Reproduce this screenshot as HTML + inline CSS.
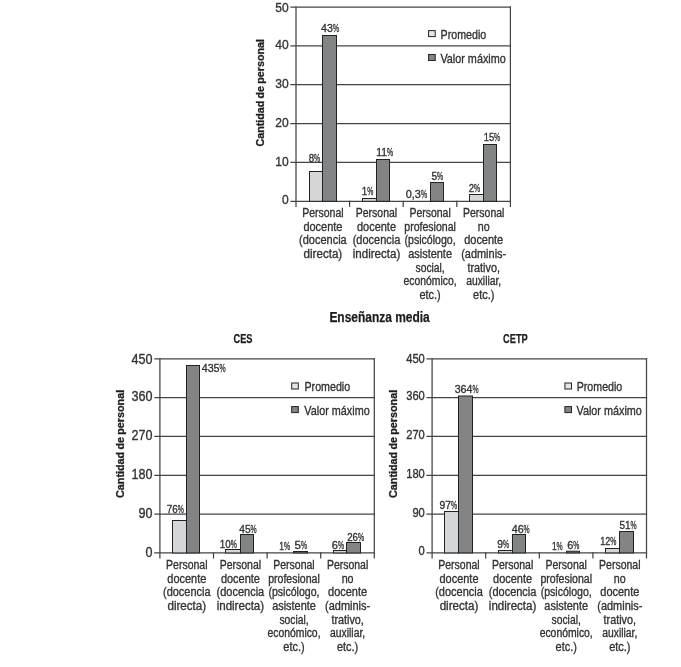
<!DOCTYPE html>
<html lang="es">
<head>
<meta charset="utf-8">
<title>Enseñanza media</title>
<style>
html,body{margin:0;padding:0;background:#ffffff;}
body{width:681px;height:667px;overflow:hidden;font-family:"Liberation Sans", sans-serif;}
svg{display:block;}
svg text{font-family:"Liberation Sans", sans-serif;}
</style>
</head>
<body>
<svg width="681" height="667" viewBox="0 0 681 667">
<rect x="0" y="0" width="681" height="667" fill="#ffffff"/>
<g stroke="#444444" stroke-width="1.25" fill="none" stroke-linecap="square">
<line x1="291.00" y1="7.00" x2="510.40" y2="7.00"/>
<line x1="291.00" y1="45.86" x2="510.40" y2="45.86"/>
<line x1="291.00" y1="84.72" x2="510.40" y2="84.72"/>
<line x1="291.00" y1="123.58" x2="510.40" y2="123.58"/>
<line x1="291.00" y1="162.44" x2="510.40" y2="162.44"/>
<line x1="291.00" y1="201.30" x2="510.40" y2="201.30"/>
<line x1="296.00" y1="7.00" x2="296.00" y2="206.30"/>
<line x1="510.40" y1="7.00" x2="510.40" y2="206.30"/>
<line x1="349.60" y1="201.30" x2="349.60" y2="206.30"/>
<line x1="403.20" y1="201.30" x2="403.20" y2="206.30"/>
<line x1="456.80" y1="201.30" x2="456.80" y2="206.30"/>
</g>
<g stroke="#222222" stroke-width="1">
<rect x="309.50" y="171.50" width="13.00" height="29.80" fill="#d5d6d8"/>
<rect x="322.50" y="35.50" width="14.00" height="165.80" fill="#838486"/>
<rect x="362.50" y="198.50" width="14.00" height="2.80" fill="#d5d6d8"/>
<rect x="376.50" y="159.50" width="13.00" height="41.80" fill="#838486"/>
<rect x="430.50" y="182.50" width="13.00" height="18.80" fill="#838486"/>
<rect x="469.50" y="194.50" width="14.00" height="6.80" fill="#d5d6d8"/>
<rect x="483.50" y="144.50" width="13.00" height="56.80" fill="#838486"/>
</g>
<text x="275.30" y="12" font-size="13.4" font-weight="normal" fill="#333333" stroke="#333333" stroke-width="0.35" textLength="13.40" lengthAdjust="spacingAndGlyphs">50</text>
<text x="275.30" y="49" font-size="13.4" font-weight="normal" fill="#333333" stroke="#333333" stroke-width="0.35" textLength="13.40" lengthAdjust="spacingAndGlyphs">40</text>
<text x="275.30" y="88" font-size="13.4" font-weight="normal" fill="#333333" stroke="#333333" stroke-width="0.35" textLength="13.40" lengthAdjust="spacingAndGlyphs">30</text>
<text x="275.30" y="127" font-size="13.4" font-weight="normal" fill="#333333" stroke="#333333" stroke-width="0.35" textLength="13.40" lengthAdjust="spacingAndGlyphs">20</text>
<text x="275.30" y="166" font-size="13.4" font-weight="normal" fill="#333333" stroke="#333333" stroke-width="0.35" textLength="13.40" lengthAdjust="spacingAndGlyphs">10</text>
<text x="282.00" y="204" font-size="13.4" font-weight="normal" fill="#333333" stroke="#333333" stroke-width="0.35" textLength="6.70" lengthAdjust="spacingAndGlyphs">0</text>
<text x="308.70" y="162" font-size="11.3" fill="#333333" stroke="#333333" stroke-width="0.35"><tspan textLength="5.40" lengthAdjust="spacingAndGlyphs">8</tspan><tspan textLength="6.10" lengthAdjust="spacingAndGlyphs">%</tspan></text>
<text x="321.00" y="32" font-size="11.3" fill="#333333" stroke="#333333" stroke-width="0.35"><tspan textLength="11.90" lengthAdjust="spacingAndGlyphs">43</tspan><tspan textLength="6.10" lengthAdjust="spacingAndGlyphs">%</tspan></text>
<text x="361.70" y="195" font-size="11.3" fill="#333333" stroke="#333333" stroke-width="0.35"><tspan textLength="5.50" lengthAdjust="spacingAndGlyphs">1</tspan><tspan textLength="6.10" lengthAdjust="spacingAndGlyphs">%</tspan></text>
<text x="376.30" y="156" font-size="11.3" fill="#333333" stroke="#333333" stroke-width="0.35"><tspan textLength="10.80" lengthAdjust="spacingAndGlyphs">11</tspan><tspan textLength="6.10" lengthAdjust="spacingAndGlyphs">%</tspan></text>
<text x="405.70" y="198" font-size="11.3" fill="#333333" stroke="#333333" stroke-width="0.35"><tspan textLength="15.20" lengthAdjust="spacingAndGlyphs">0,3</tspan><tspan textLength="6.10" lengthAdjust="spacingAndGlyphs">%</tspan></text>
<text x="431.50" y="180" font-size="11.3" fill="#333333" stroke="#333333" stroke-width="0.35"><tspan textLength="5.60" lengthAdjust="spacingAndGlyphs">5</tspan><tspan textLength="6.10" lengthAdjust="spacingAndGlyphs">%</tspan></text>
<text x="468.70" y="192" font-size="11.3" fill="#333333" stroke="#333333" stroke-width="0.35"><tspan textLength="5.40" lengthAdjust="spacingAndGlyphs">2</tspan><tspan textLength="6.10" lengthAdjust="spacingAndGlyphs">%</tspan></text>
<text x="483.70" y="141" font-size="11.3" fill="#333333" stroke="#333333" stroke-width="0.35"><tspan textLength="10.40" lengthAdjust="spacingAndGlyphs">15</tspan><tspan textLength="6.10" lengthAdjust="spacingAndGlyphs">%</tspan></text>
<rect x="428.6" y="30.6" width="6.6" height="6" fill="#e6e6e6" stroke="#222222" stroke-width="1"/>
<rect x="428.6" y="54.5" width="6.6" height="6" fill="#838486" stroke="#222222" stroke-width="1"/>
<text x="440.60" y="39" font-size="12.6" font-weight="normal" fill="#333333" stroke="#333333" stroke-width="0.35" textLength="45.60" lengthAdjust="spacingAndGlyphs">Promedio</text>
<text x="440.40" y="63" font-size="12.6" font-weight="normal" fill="#333333" stroke="#333333" stroke-width="0.35" textLength="65.40" lengthAdjust="spacingAndGlyphs">Valor máximo</text>
<text x="302.20" y="217" font-size="12.3" font-weight="normal" fill="#333333" stroke="#333333" stroke-width="0.35" textLength="41.40" lengthAdjust="spacingAndGlyphs">Personal</text>
<text x="303.40" y="231" font-size="12.3" font-weight="normal" fill="#333333" stroke="#333333" stroke-width="0.35" textLength="39.00" lengthAdjust="spacingAndGlyphs">docente</text>
<text x="299.10" y="244" font-size="12.3" font-weight="normal" fill="#333333" stroke="#333333" stroke-width="0.35" textLength="47.60" lengthAdjust="spacingAndGlyphs">(docencia</text>
<text x="303.55" y="258" font-size="12.3" font-weight="normal" fill="#333333" stroke="#333333" stroke-width="0.35" textLength="38.70" lengthAdjust="spacingAndGlyphs">directa)</text>
<text x="355.80" y="217" font-size="12.3" font-weight="normal" fill="#333333" stroke="#333333" stroke-width="0.35" textLength="41.40" lengthAdjust="spacingAndGlyphs">Personal</text>
<text x="357.00" y="231" font-size="12.3" font-weight="normal" fill="#333333" stroke="#333333" stroke-width="0.35" textLength="39.00" lengthAdjust="spacingAndGlyphs">docente</text>
<text x="352.70" y="244" font-size="12.3" font-weight="normal" fill="#333333" stroke="#333333" stroke-width="0.35" textLength="47.60" lengthAdjust="spacingAndGlyphs">(docencia</text>
<text x="352.75" y="258" font-size="12.3" font-weight="normal" fill="#333333" stroke="#333333" stroke-width="0.35" textLength="47.50" lengthAdjust="spacingAndGlyphs">indirecta)</text>
<text x="409.40" y="217" font-size="12.3" font-weight="normal" fill="#333333" stroke="#333333" stroke-width="0.35" textLength="41.40" lengthAdjust="spacingAndGlyphs">Personal</text>
<text x="404.30" y="231" font-size="12.3" font-weight="normal" fill="#333333" stroke="#333333" stroke-width="0.35" textLength="51.60" lengthAdjust="spacingAndGlyphs">profesional</text>
<text x="404.55" y="244" font-size="12.3" font-weight="normal" fill="#333333" stroke="#333333" stroke-width="0.35" textLength="51.10" lengthAdjust="spacingAndGlyphs">(psicólogo,</text>
<text x="408.25" y="258" font-size="12.3" font-weight="normal" fill="#333333" stroke="#333333" stroke-width="0.35" textLength="43.70" lengthAdjust="spacingAndGlyphs">asistente</text>
<text x="415.50" y="272" font-size="12.3" font-weight="normal" fill="#333333" stroke="#333333" stroke-width="0.35" textLength="29.20" lengthAdjust="spacingAndGlyphs">social,</text>
<text x="403.55" y="285" font-size="12.3" font-weight="normal" fill="#333333" stroke="#333333" stroke-width="0.35" textLength="53.10" lengthAdjust="spacingAndGlyphs">económico,</text>
<text x="419.45" y="299" font-size="12.3" font-weight="normal" fill="#333333" stroke="#333333" stroke-width="0.35" textLength="21.30" lengthAdjust="spacingAndGlyphs">etc.)</text>
<text x="463.00" y="217" font-size="12.3" font-weight="normal" fill="#333333" stroke="#333333" stroke-width="0.35" textLength="41.40" lengthAdjust="spacingAndGlyphs">Personal</text>
<text x="477.75" y="231" font-size="12.3" font-weight="normal" fill="#333333" stroke="#333333" stroke-width="0.35" textLength="11.90" lengthAdjust="spacingAndGlyphs">no</text>
<text x="464.20" y="244" font-size="12.3" font-weight="normal" fill="#333333" stroke="#333333" stroke-width="0.35" textLength="39.00" lengthAdjust="spacingAndGlyphs">docente</text>
<text x="461.20" y="258" font-size="12.3" font-weight="normal" fill="#333333" stroke="#333333" stroke-width="0.35" textLength="45.00" lengthAdjust="spacingAndGlyphs">(adminis-</text>
<text x="467.50" y="272" font-size="12.3" font-weight="normal" fill="#333333" stroke="#333333" stroke-width="0.35" textLength="32.40" lengthAdjust="spacingAndGlyphs">trativo,</text>
<text x="466.15" y="285" font-size="12.3" font-weight="normal" fill="#333333" stroke="#333333" stroke-width="0.35" textLength="35.10" lengthAdjust="spacingAndGlyphs">auxiliar,</text>
<text x="473.05" y="299" font-size="12.3" font-weight="normal" fill="#333333" stroke="#333333" stroke-width="0.35" textLength="21.30" lengthAdjust="spacingAndGlyphs">etc.)</text>
<text transform="translate(263.80,146.60) rotate(-90)" x="0" y="0" word-spacing="-0.9" font-size="11.6" font-weight="bold" fill="#1f1f1f" stroke="#1f1f1f" stroke-width="0.3" textLength="107.6" lengthAdjust="spacingAndGlyphs">Cantidad de personal</text>
<g stroke="#444444" stroke-width="1.25" fill="none" stroke-linecap="square">
<line x1="154.90" y1="358.85" x2="374.30" y2="358.85"/>
<line x1="154.90" y1="397.67" x2="374.30" y2="397.67"/>
<line x1="154.90" y1="436.49" x2="374.30" y2="436.49"/>
<line x1="154.90" y1="475.31" x2="374.30" y2="475.31"/>
<line x1="154.90" y1="514.13" x2="374.30" y2="514.13"/>
<line x1="154.90" y1="552.95" x2="374.30" y2="552.95"/>
<line x1="159.90" y1="358.85" x2="159.90" y2="557.95"/>
<line x1="374.30" y1="358.85" x2="374.30" y2="557.95"/>
<line x1="213.50" y1="552.95" x2="213.50" y2="557.95"/>
<line x1="267.10" y1="552.95" x2="267.10" y2="557.95"/>
<line x1="320.70" y1="552.95" x2="320.70" y2="557.95"/>
</g>
<g stroke="#222222" stroke-width="1">
<rect x="172.50" y="520.50" width="14.00" height="32.45" fill="#d5d6d8"/>
<rect x="186.50" y="365.50" width="13.00" height="187.45" fill="#838486"/>
<rect x="225.50" y="549.50" width="15.00" height="3.45" fill="#d5d6d8"/>
<rect x="240.50" y="534.50" width="13.00" height="18.45" fill="#838486"/>
<rect x="293.50" y="551.50" width="14.00" height="1.45" fill="#838486"/>
<rect x="333.50" y="550.50" width="13.00" height="2.45" fill="#d5d6d8"/>
<rect x="346.50" y="542.50" width="14.00" height="10.45" fill="#838486"/>
</g>
<text x="131.60" y="364" font-size="14" font-weight="normal" fill="#333333" stroke="#333333" stroke-width="0.35" textLength="21.00" lengthAdjust="spacingAndGlyphs">450</text>
<text x="131.60" y="401" font-size="14" font-weight="normal" fill="#333333" stroke="#333333" stroke-width="0.35" textLength="21.00" lengthAdjust="spacingAndGlyphs">360</text>
<text x="131.60" y="440" font-size="14" font-weight="normal" fill="#333333" stroke="#333333" stroke-width="0.35" textLength="21.00" lengthAdjust="spacingAndGlyphs">270</text>
<text x="131.60" y="479" font-size="14" font-weight="normal" fill="#333333" stroke="#333333" stroke-width="0.35" textLength="21.00" lengthAdjust="spacingAndGlyphs">180</text>
<text x="138.60" y="518" font-size="14" font-weight="normal" fill="#333333" stroke="#333333" stroke-width="0.35" textLength="14.00" lengthAdjust="spacingAndGlyphs">90</text>
<text x="145.60" y="557" font-size="14" font-weight="normal" fill="#333333" stroke="#333333" stroke-width="0.35" textLength="7.00" lengthAdjust="spacingAndGlyphs">0</text>
<text x="166.80" y="513" font-size="11.3" fill="#333333" stroke="#333333" stroke-width="0.35"><tspan textLength="11.00" lengthAdjust="spacingAndGlyphs">76</tspan><tspan textLength="6.10" lengthAdjust="spacingAndGlyphs">%</tspan></text>
<text x="201.70" y="372" font-size="11.3" fill="#333333" stroke="#333333" stroke-width="0.35"><tspan textLength="17.90" lengthAdjust="spacingAndGlyphs">435</tspan><tspan textLength="6.10" lengthAdjust="spacingAndGlyphs">%</tspan></text>
<text x="219.80" y="548" font-size="11.3" fill="#333333" stroke="#333333" stroke-width="0.35"><tspan textLength="11.00" lengthAdjust="spacingAndGlyphs">10</tspan><tspan textLength="6.10" lengthAdjust="spacingAndGlyphs">%</tspan></text>
<text x="239.20" y="533" font-size="11.3" fill="#333333" stroke="#333333" stroke-width="0.35"><tspan textLength="11.40" lengthAdjust="spacingAndGlyphs">45</tspan><tspan textLength="6.10" lengthAdjust="spacingAndGlyphs">%</tspan></text>
<text x="279.20" y="550" font-size="11.3" fill="#333333" stroke="#333333" stroke-width="0.35"><tspan textLength="4.70" lengthAdjust="spacingAndGlyphs">1</tspan><tspan textLength="6.10" lengthAdjust="spacingAndGlyphs">%</tspan></text>
<text x="294.50" y="549" font-size="11.3" fill="#333333" stroke="#333333" stroke-width="0.35"><tspan textLength="6.40" lengthAdjust="spacingAndGlyphs">5</tspan><tspan textLength="6.10" lengthAdjust="spacingAndGlyphs">%</tspan></text>
<text x="331.70" y="549" font-size="11.3" fill="#333333" stroke="#333333" stroke-width="0.35"><tspan textLength="6.20" lengthAdjust="spacingAndGlyphs">6</tspan><tspan textLength="6.10" lengthAdjust="spacingAndGlyphs">%</tspan></text>
<text x="347.20" y="541" font-size="11.3" fill="#333333" stroke="#333333" stroke-width="0.35"><tspan textLength="10.80" lengthAdjust="spacingAndGlyphs">26</tspan><tspan textLength="6.10" lengthAdjust="spacingAndGlyphs">%</tspan></text>
<rect x="291.7" y="383.0" width="6.6" height="6" fill="#e6e6e6" stroke="#222222" stroke-width="1"/>
<rect x="291.7" y="406.6" width="6.6" height="6" fill="#838486" stroke="#222222" stroke-width="1"/>
<text x="304.50" y="391" font-size="12.6" font-weight="normal" fill="#333333" stroke="#333333" stroke-width="0.35" textLength="45.60" lengthAdjust="spacingAndGlyphs">Promedio</text>
<text x="304.30" y="415" font-size="12.6" font-weight="normal" fill="#333333" stroke="#333333" stroke-width="0.35" textLength="65.40" lengthAdjust="spacingAndGlyphs">Valor máximo</text>
<text x="166.10" y="569" font-size="12.3" font-weight="normal" fill="#333333" stroke="#333333" stroke-width="0.35" textLength="41.40" lengthAdjust="spacingAndGlyphs">Personal</text>
<text x="167.30" y="583" font-size="12.3" font-weight="normal" fill="#333333" stroke="#333333" stroke-width="0.35" textLength="39.00" lengthAdjust="spacingAndGlyphs">docente</text>
<text x="163.00" y="596" font-size="12.3" font-weight="normal" fill="#333333" stroke="#333333" stroke-width="0.35" textLength="47.60" lengthAdjust="spacingAndGlyphs">(docencia</text>
<text x="167.45" y="610" font-size="12.3" font-weight="normal" fill="#333333" stroke="#333333" stroke-width="0.35" textLength="38.70" lengthAdjust="spacingAndGlyphs">directa)</text>
<text x="219.70" y="569" font-size="12.3" font-weight="normal" fill="#333333" stroke="#333333" stroke-width="0.35" textLength="41.40" lengthAdjust="spacingAndGlyphs">Personal</text>
<text x="220.90" y="583" font-size="12.3" font-weight="normal" fill="#333333" stroke="#333333" stroke-width="0.35" textLength="39.00" lengthAdjust="spacingAndGlyphs">docente</text>
<text x="216.60" y="596" font-size="12.3" font-weight="normal" fill="#333333" stroke="#333333" stroke-width="0.35" textLength="47.60" lengthAdjust="spacingAndGlyphs">(docencia</text>
<text x="216.65" y="610" font-size="12.3" font-weight="normal" fill="#333333" stroke="#333333" stroke-width="0.35" textLength="47.50" lengthAdjust="spacingAndGlyphs">indirecta)</text>
<text x="273.30" y="569" font-size="12.3" font-weight="normal" fill="#333333" stroke="#333333" stroke-width="0.35" textLength="41.40" lengthAdjust="spacingAndGlyphs">Personal</text>
<text x="268.20" y="583" font-size="12.3" font-weight="normal" fill="#333333" stroke="#333333" stroke-width="0.35" textLength="51.60" lengthAdjust="spacingAndGlyphs">profesional</text>
<text x="268.45" y="596" font-size="12.3" font-weight="normal" fill="#333333" stroke="#333333" stroke-width="0.35" textLength="51.10" lengthAdjust="spacingAndGlyphs">(psicólogo,</text>
<text x="272.15" y="610" font-size="12.3" font-weight="normal" fill="#333333" stroke="#333333" stroke-width="0.35" textLength="43.70" lengthAdjust="spacingAndGlyphs">asistente</text>
<text x="279.40" y="624" font-size="12.3" font-weight="normal" fill="#333333" stroke="#333333" stroke-width="0.35" textLength="29.20" lengthAdjust="spacingAndGlyphs">social,</text>
<text x="267.45" y="637" font-size="12.3" font-weight="normal" fill="#333333" stroke="#333333" stroke-width="0.35" textLength="53.10" lengthAdjust="spacingAndGlyphs">económico,</text>
<text x="283.35" y="651" font-size="12.3" font-weight="normal" fill="#333333" stroke="#333333" stroke-width="0.35" textLength="21.30" lengthAdjust="spacingAndGlyphs">etc.)</text>
<text x="326.90" y="569" font-size="12.3" font-weight="normal" fill="#333333" stroke="#333333" stroke-width="0.35" textLength="41.40" lengthAdjust="spacingAndGlyphs">Personal</text>
<text x="341.65" y="583" font-size="12.3" font-weight="normal" fill="#333333" stroke="#333333" stroke-width="0.35" textLength="11.90" lengthAdjust="spacingAndGlyphs">no</text>
<text x="328.10" y="596" font-size="12.3" font-weight="normal" fill="#333333" stroke="#333333" stroke-width="0.35" textLength="39.00" lengthAdjust="spacingAndGlyphs">docente</text>
<text x="325.10" y="610" font-size="12.3" font-weight="normal" fill="#333333" stroke="#333333" stroke-width="0.35" textLength="45.00" lengthAdjust="spacingAndGlyphs">(adminis-</text>
<text x="331.40" y="624" font-size="12.3" font-weight="normal" fill="#333333" stroke="#333333" stroke-width="0.35" textLength="32.40" lengthAdjust="spacingAndGlyphs">trativo,</text>
<text x="330.05" y="637" font-size="12.3" font-weight="normal" fill="#333333" stroke="#333333" stroke-width="0.35" textLength="35.10" lengthAdjust="spacingAndGlyphs">auxiliar,</text>
<text x="336.95" y="651" font-size="12.3" font-weight="normal" fill="#333333" stroke="#333333" stroke-width="0.35" textLength="21.30" lengthAdjust="spacingAndGlyphs">etc.)</text>
<text transform="translate(124.30,498.00) rotate(-90)" x="0" y="0" word-spacing="-0.9" font-size="11.6" font-weight="bold" fill="#1f1f1f" stroke="#1f1f1f" stroke-width="0.3" textLength="108.2" lengthAdjust="spacingAndGlyphs">Cantidad de personal</text>
<g stroke="#444444" stroke-width="1.25" fill="none" stroke-linecap="square">
<line x1="427.10" y1="358.80" x2="646.50" y2="358.80"/>
<line x1="427.10" y1="397.62" x2="646.50" y2="397.62"/>
<line x1="427.10" y1="436.44" x2="646.50" y2="436.44"/>
<line x1="427.10" y1="475.26" x2="646.50" y2="475.26"/>
<line x1="427.10" y1="514.08" x2="646.50" y2="514.08"/>
<line x1="427.10" y1="552.90" x2="646.50" y2="552.90"/>
<line x1="432.10" y1="358.80" x2="432.10" y2="557.90"/>
<line x1="646.50" y1="358.80" x2="646.50" y2="557.90"/>
<line x1="485.70" y1="552.90" x2="485.70" y2="557.90"/>
<line x1="539.30" y1="552.90" x2="539.30" y2="557.90"/>
<line x1="592.90" y1="552.90" x2="592.90" y2="557.90"/>
</g>
<g stroke="#222222" stroke-width="1">
<rect x="444.50" y="511.50" width="14.00" height="41.40" fill="#d5d6d8"/>
<rect x="458.50" y="396.00" width="14.00" height="156.90" fill="#838486"/>
<rect x="498.50" y="550.50" width="14.00" height="2.40" fill="#d5d6d8"/>
<rect x="512.50" y="534.50" width="13.00" height="18.40" fill="#838486"/>
<rect x="566.50" y="551.20" width="13.00" height="1.70" fill="#838486"/>
<rect x="605.50" y="548.50" width="14.00" height="4.40" fill="#d5d6d8"/>
<rect x="619.50" y="531.50" width="14.00" height="21.40" fill="#838486"/>
</g>
<text x="406.20" y="363" font-size="12.1" font-weight="normal" fill="#333333" stroke="#333333" stroke-width="0.35" textLength="18.60" lengthAdjust="spacingAndGlyphs">450</text>
<text x="406.20" y="400" font-size="12.1" font-weight="normal" fill="#333333" stroke="#333333" stroke-width="0.35" textLength="18.60" lengthAdjust="spacingAndGlyphs">360</text>
<text x="406.20" y="439" font-size="12.1" font-weight="normal" fill="#333333" stroke="#333333" stroke-width="0.35" textLength="18.60" lengthAdjust="spacingAndGlyphs">270</text>
<text x="406.20" y="478" font-size="12.1" font-weight="normal" fill="#333333" stroke="#333333" stroke-width="0.35" textLength="18.60" lengthAdjust="spacingAndGlyphs">180</text>
<text x="412.40" y="517" font-size="12.1" font-weight="normal" fill="#333333" stroke="#333333" stroke-width="0.35" textLength="12.40" lengthAdjust="spacingAndGlyphs">90</text>
<text x="418.60" y="555" font-size="12.1" font-weight="normal" fill="#333333" stroke="#333333" stroke-width="0.35" textLength="6.20" lengthAdjust="spacingAndGlyphs">0</text>
<text x="439.40" y="509" font-size="11.3" fill="#333333" stroke="#333333" stroke-width="0.35"><tspan textLength="11.50" lengthAdjust="spacingAndGlyphs">97</tspan><tspan textLength="6.10" lengthAdjust="spacingAndGlyphs">%</tspan></text>
<text x="454.70" y="393" font-size="11.3" fill="#333333" stroke="#333333" stroke-width="0.35"><tspan textLength="17.80" lengthAdjust="spacingAndGlyphs">364</tspan><tspan textLength="6.10" lengthAdjust="spacingAndGlyphs">%</tspan></text>
<text x="497.30" y="548" font-size="11.3" fill="#333333" stroke="#333333" stroke-width="0.35"><tspan textLength="5.80" lengthAdjust="spacingAndGlyphs">9</tspan><tspan textLength="6.10" lengthAdjust="spacingAndGlyphs">%</tspan></text>
<text x="511.70" y="533" font-size="11.3" fill="#333333" stroke="#333333" stroke-width="0.35"><tspan textLength="11.90" lengthAdjust="spacingAndGlyphs">46</tspan><tspan textLength="6.10" lengthAdjust="spacingAndGlyphs">%</tspan></text>
<text x="551.90" y="550" font-size="11.3" fill="#333333" stroke="#333333" stroke-width="0.35"><tspan textLength="4.70" lengthAdjust="spacingAndGlyphs">1</tspan><tspan textLength="6.10" lengthAdjust="spacingAndGlyphs">%</tspan></text>
<text x="567.20" y="549" font-size="11.3" fill="#333333" stroke="#333333" stroke-width="0.35"><tspan textLength="6.10" lengthAdjust="spacingAndGlyphs">6</tspan><tspan textLength="6.10" lengthAdjust="spacingAndGlyphs">%</tspan></text>
<text x="600.20" y="545" font-size="11.3" fill="#333333" stroke="#333333" stroke-width="0.35"><tspan textLength="10.10" lengthAdjust="spacingAndGlyphs">12</tspan><tspan textLength="6.10" lengthAdjust="spacingAndGlyphs">%</tspan></text>
<text x="619.50" y="529" font-size="11.3" fill="#333333" stroke="#333333" stroke-width="0.35"><tspan textLength="11.00" lengthAdjust="spacingAndGlyphs">51</tspan><tspan textLength="6.10" lengthAdjust="spacingAndGlyphs">%</tspan></text>
<rect x="564.9" y="383.0" width="6.6" height="6" fill="#e6e6e6" stroke="#222222" stroke-width="1"/>
<rect x="564.9" y="406.6" width="6.6" height="6" fill="#838486" stroke="#222222" stroke-width="1"/>
<text x="576.70" y="391" font-size="12.6" font-weight="normal" fill="#333333" stroke="#333333" stroke-width="0.35" textLength="45.60" lengthAdjust="spacingAndGlyphs">Promedio</text>
<text x="576.50" y="415" font-size="12.6" font-weight="normal" fill="#333333" stroke="#333333" stroke-width="0.35" textLength="65.40" lengthAdjust="spacingAndGlyphs">Valor máximo</text>
<text x="438.30" y="569" font-size="12.3" font-weight="normal" fill="#333333" stroke="#333333" stroke-width="0.35" textLength="41.40" lengthAdjust="spacingAndGlyphs">Personal</text>
<text x="439.50" y="583" font-size="12.3" font-weight="normal" fill="#333333" stroke="#333333" stroke-width="0.35" textLength="39.00" lengthAdjust="spacingAndGlyphs">docente</text>
<text x="435.20" y="596" font-size="12.3" font-weight="normal" fill="#333333" stroke="#333333" stroke-width="0.35" textLength="47.60" lengthAdjust="spacingAndGlyphs">(docencia</text>
<text x="439.65" y="610" font-size="12.3" font-weight="normal" fill="#333333" stroke="#333333" stroke-width="0.35" textLength="38.70" lengthAdjust="spacingAndGlyphs">directa)</text>
<text x="491.90" y="569" font-size="12.3" font-weight="normal" fill="#333333" stroke="#333333" stroke-width="0.35" textLength="41.40" lengthAdjust="spacingAndGlyphs">Personal</text>
<text x="493.10" y="583" font-size="12.3" font-weight="normal" fill="#333333" stroke="#333333" stroke-width="0.35" textLength="39.00" lengthAdjust="spacingAndGlyphs">docente</text>
<text x="488.80" y="596" font-size="12.3" font-weight="normal" fill="#333333" stroke="#333333" stroke-width="0.35" textLength="47.60" lengthAdjust="spacingAndGlyphs">(docencia</text>
<text x="488.85" y="610" font-size="12.3" font-weight="normal" fill="#333333" stroke="#333333" stroke-width="0.35" textLength="47.50" lengthAdjust="spacingAndGlyphs">indirecta)</text>
<text x="545.50" y="569" font-size="12.3" font-weight="normal" fill="#333333" stroke="#333333" stroke-width="0.35" textLength="41.40" lengthAdjust="spacingAndGlyphs">Personal</text>
<text x="540.40" y="583" font-size="12.3" font-weight="normal" fill="#333333" stroke="#333333" stroke-width="0.35" textLength="51.60" lengthAdjust="spacingAndGlyphs">profesional</text>
<text x="540.65" y="596" font-size="12.3" font-weight="normal" fill="#333333" stroke="#333333" stroke-width="0.35" textLength="51.10" lengthAdjust="spacingAndGlyphs">(psicólogo,</text>
<text x="544.35" y="610" font-size="12.3" font-weight="normal" fill="#333333" stroke="#333333" stroke-width="0.35" textLength="43.70" lengthAdjust="spacingAndGlyphs">asistente</text>
<text x="551.60" y="624" font-size="12.3" font-weight="normal" fill="#333333" stroke="#333333" stroke-width="0.35" textLength="29.20" lengthAdjust="spacingAndGlyphs">social,</text>
<text x="539.65" y="637" font-size="12.3" font-weight="normal" fill="#333333" stroke="#333333" stroke-width="0.35" textLength="53.10" lengthAdjust="spacingAndGlyphs">económico,</text>
<text x="555.55" y="651" font-size="12.3" font-weight="normal" fill="#333333" stroke="#333333" stroke-width="0.35" textLength="21.30" lengthAdjust="spacingAndGlyphs">etc.)</text>
<text x="599.10" y="569" font-size="12.3" font-weight="normal" fill="#333333" stroke="#333333" stroke-width="0.35" textLength="41.40" lengthAdjust="spacingAndGlyphs">Personal</text>
<text x="613.85" y="583" font-size="12.3" font-weight="normal" fill="#333333" stroke="#333333" stroke-width="0.35" textLength="11.90" lengthAdjust="spacingAndGlyphs">no</text>
<text x="600.30" y="596" font-size="12.3" font-weight="normal" fill="#333333" stroke="#333333" stroke-width="0.35" textLength="39.00" lengthAdjust="spacingAndGlyphs">docente</text>
<text x="597.30" y="610" font-size="12.3" font-weight="normal" fill="#333333" stroke="#333333" stroke-width="0.35" textLength="45.00" lengthAdjust="spacingAndGlyphs">(adminis-</text>
<text x="603.60" y="624" font-size="12.3" font-weight="normal" fill="#333333" stroke="#333333" stroke-width="0.35" textLength="32.40" lengthAdjust="spacingAndGlyphs">trativo,</text>
<text x="602.25" y="637" font-size="12.3" font-weight="normal" fill="#333333" stroke="#333333" stroke-width="0.35" textLength="35.10" lengthAdjust="spacingAndGlyphs">auxiliar,</text>
<text x="609.15" y="651" font-size="12.3" font-weight="normal" fill="#333333" stroke="#333333" stroke-width="0.35" textLength="21.30" lengthAdjust="spacingAndGlyphs">etc.)</text>
<text transform="translate(396.90,498.00) rotate(-90)" x="0" y="0" word-spacing="-0.9" font-size="11.6" font-weight="bold" fill="#1f1f1f" stroke="#1f1f1f" stroke-width="0.3" textLength="108.2" lengthAdjust="spacingAndGlyphs">Cantidad de personal</text>
<text x="329.40" y="322" font-size="13.8" font-weight="bold" fill="#1c1c1c" stroke="#1c1c1c" stroke-width="0.25" textLength="100.30" lengthAdjust="spacingAndGlyphs">Enseñanza media</text>
<text x="233.50" y="343" font-size="13.6" font-weight="bold" fill="#1c1c1c" stroke="#1c1c1c" stroke-width="0.25" textLength="19.00" lengthAdjust="spacingAndGlyphs">CES</text>
<text x="503.10" y="343" font-size="13.6" font-weight="bold" fill="#1c1c1c" stroke="#1c1c1c" stroke-width="0.25" textLength="24.70" lengthAdjust="spacingAndGlyphs">CETP</text>
</svg>
</body>
</html>
